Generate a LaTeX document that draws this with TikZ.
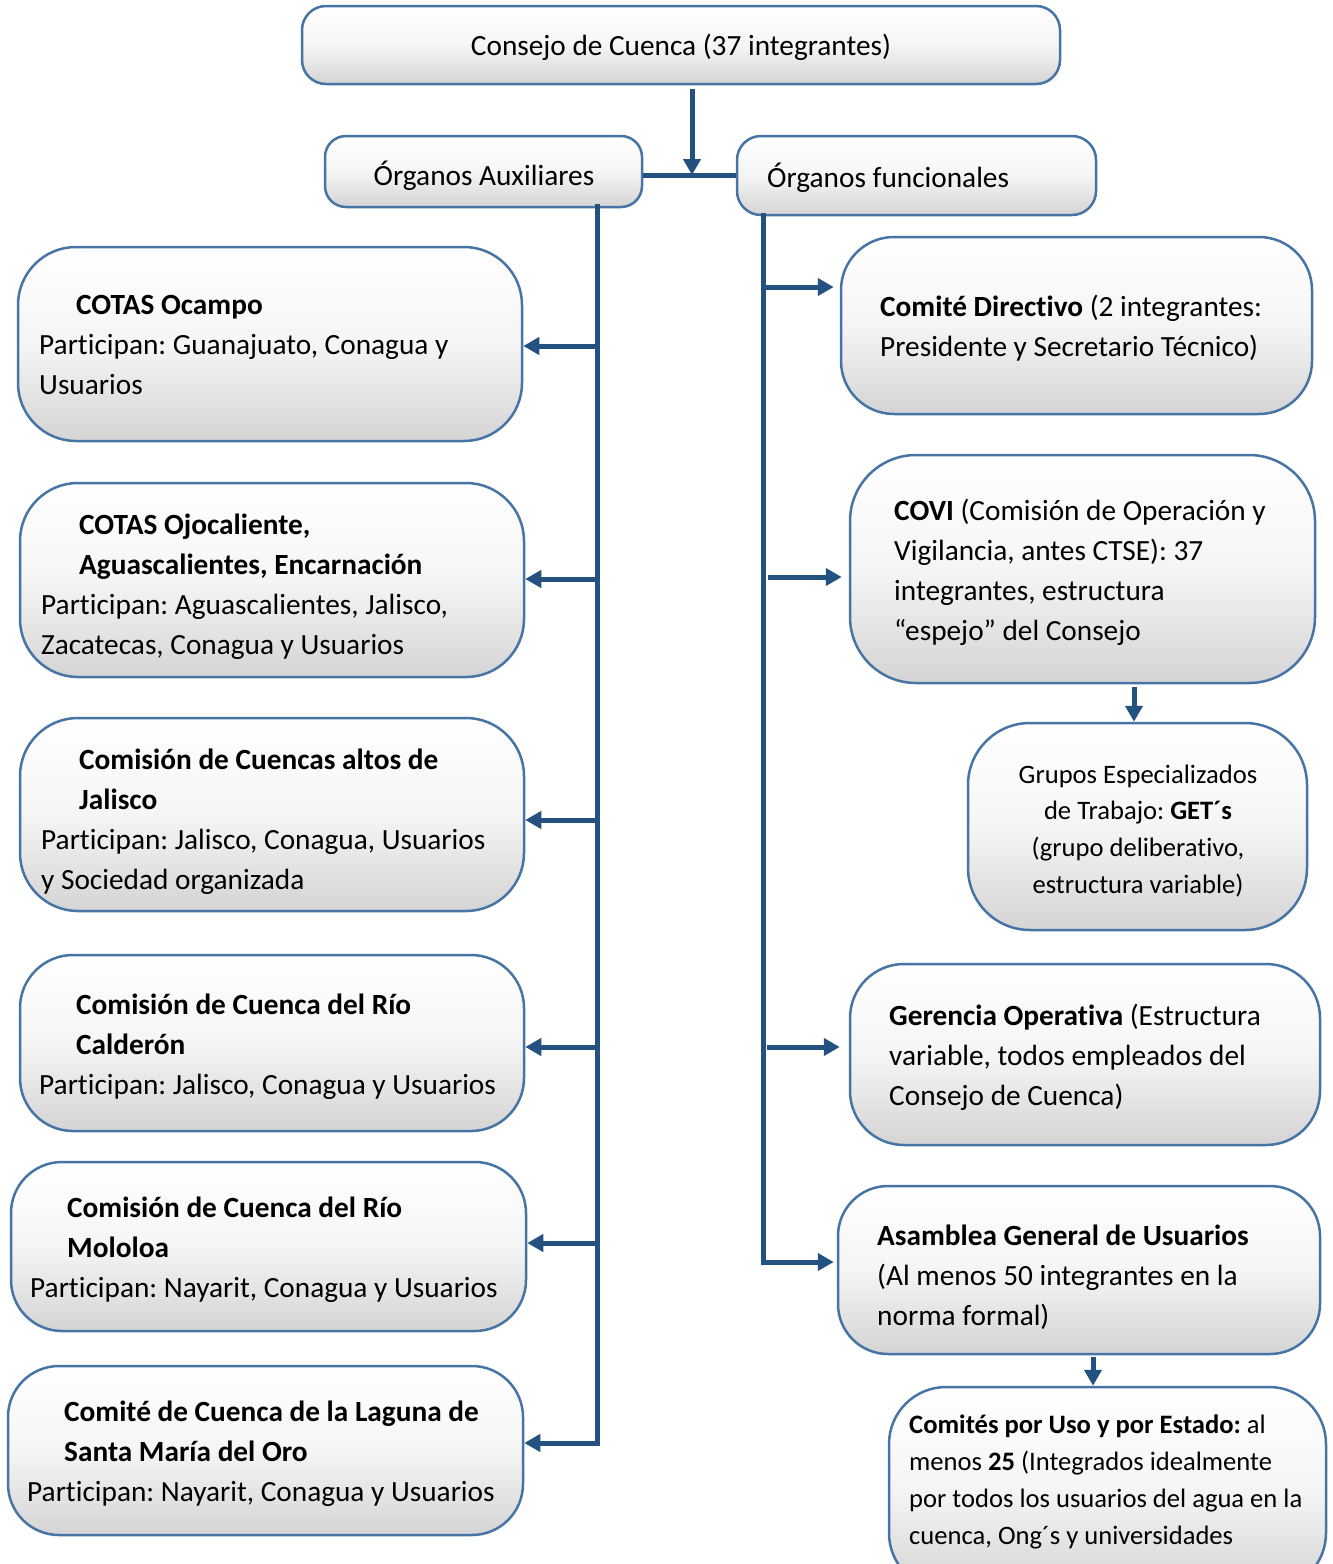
\documentclass[tikz,border=0pt]{standalone}
\usepackage{fontspec}
\setmainfont{Carlito}[Ligatures=NoCommon]
\usetikzlibrary{arrows.meta}
\frenchspacing
\definecolor{bordc}{RGB}{70,117,165}
\definecolor{connc}{RGB}{35,82,128}
\definecolor{boxbot}{RGB}{212,212,212}
\definecolor{boxmid}{RGB}{245,245,245}
\newcommand\mybox[6]{%
  \node[box, rounded corners=#6pt, minimum width={#4-#2}, minimum height={#5-#3}] (#1) at ({(#2+#4)/2},{(#3+#5)/2}) {};}
\begin{document}
\begin{tikzpicture}[x=1pt,y=-1pt,
  box/.style={draw=bordc, line width=2.5pt, top color=white, bottom color=boxbot, middle color=boxmid, inner sep=0pt},
  txt/.style={inner sep=0pt, align=left, font=\fontsize{29.3}{40}\selectfont},
  stxt/.style={inner sep=0pt, font=\fontsize{26.6}{36.8}\selectfont},
  conn/.style={draw=connc, line width=5pt},
  arr/.style={conn, -{Triangle[length=16pt,width=17pt]}}]
\useasboundingbox (0,0) rectangle (1333,1564);
\fill[white] (0,0) rectangle (1333,1564);
% boxes
\mybox{cons}{302}{6}{1060}{84}{24}
\mybox{aux}{325}{136}{642}{207}{21}
\mybox{func}{737}{136}{1096}{215}{24}
\mybox{b1}{18}{247}{522}{441}{58}
\mybox{b2}{20}{483}{524}{677}{58}
\mybox{b3}{20}{718}{524}{911}{58}
\mybox{b4}{20}{955}{524}{1131}{53}
\mybox{b5}{11}{1162}{526}{1331}{51}
\mybox{b6}{8}{1366}{523}{1535}{51}
\mybox{dir}{841}{237}{1312}{414}{53}
\mybox{covi}{850}{455}{1315}{683}{66}
\mybox{get}{968}{723}{1307}{930}{62}
\mybox{ger}{850}{964}{1320}{1145}{54}
\mybox{asa}{838}{1186}{1320}{1354}{50}
\mybox{com}{889}{1387}{1326}{1590}{57}
% texts
\node[txt] (tcons) at (681,47) {Consejo de Cuenca (37 integrantes)};
\node[txt] (taux) at (484,176) {Órganos Auxiliares};
\node[txt,anchor=west] (tfunc) at (767,178) {Órganos funcionales};
\node[txt,anchor=west] (tb1) at (39,346.5) {\strut\hspace*{37pt}\textbf{COTAS Ocampo}\\Participan: Guanajuato, Conagua y\\Usuarios\strut};
\node[txt,anchor=west] (tb2) at (41,586) {\strut\hspace*{38pt}\textbf{COTAS Ojocaliente,}\\\hspace*{38pt}\textbf{Aguascalientes, Encarnación}\\Participan: Aguascalientes, Jalisco,\\Zacatecas, Conagua y Usuarios\strut};
\node[txt,anchor=west] (tb3) at (41,821) {\strut\hspace*{38pt}\textbf{Comisión de Cuencas altos de}\\\hspace*{38pt}\textbf{Jalisco}\\Participan: Jalisco, Conagua, Usuarios\\y Sociedad organizada\strut};
\node[txt,anchor=west] (tb4) at (39,1046) {\strut\hspace*{37pt}\textbf{Comisión de Cuenca del Río}\\\hspace*{37pt}\textbf{Calderón}\\Participan: Jalisco, Conagua y Usuarios\strut};
\node[txt,anchor=west] (tb5) at (30,1249.5) {\strut\hspace*{37pt}\textbf{Comisión de Cuenca del Río}\\\hspace*{37pt}\textbf{Mololoa}\\Participan: Nayarit, Conagua y Usuarios\strut};
\node[txt,anchor=west] (tb6) at (27,1453) {\strut\hspace*{37pt}\textbf{Comité de Cuenca de la Laguna de}\\\hspace*{37pt}\textbf{Santa María del Oro}\\Participan: Nayarit, Conagua y Usuarios\strut};
\node[txt,anchor=west] (tdir) at (880,328) {\strut\textbf{Comité Directivo} (2 integrantes:\\Presidente y Secretario Técnico)\strut};
\node[txt,anchor=west] (tcovi) at (894,572) {\strut\textbf{COVI} (Comisión de Operación y\\Vigilancia, antes CTSE): 37\\integrantes, estructura\\“espejo” del Consejo\strut};
\node[stxt,align=center] (tget) at (1138,831) {\strut Grupos Especializados\\de Trabajo: \textbf{GET´s}\\(grupo deliberativo,\\estructura variable)\strut};
\node[txt,anchor=west] (tger) at (889,1057.5) {\strut\textbf{Gerencia Operativa} (Estructura\\variable, todos empleados del\\Consejo de Cuenca)\strut};
\node[txt,anchor=west] (tasa) at (877,1277) {\strut\textbf{Asamblea General de Usuarios}\\(Al menos 50 integrantes en la\\norma formal)\strut};
\node[stxt,align=left,anchor=west] (tcom) at (909,1481.5) {\strut\textbf{Comités por Uso y por Estado:} al\\menos \textbf{25} (Integrados idealmente\\por todos los usuarios del agua en la\\cuenca, Ong´s y universidades\strut};
% connectors top
\coordinate (J) at (692,175);
\draw[conn] (aux.east |- J) -- (func.west |- J);
\draw[arr, shorten <=4pt] (cons.south -| J) -- (J);
% left bus
\coordinate (LT) at (597,204);
\coordinate (LB) at (597,1443);
\coordinate (l1) at (597,346);
\coordinate (l2) at (597,579);
\coordinate (l3) at (597,820);
\coordinate (l4) at (597,1047);
\coordinate (l5) at (597,1243);
\draw[arr, line join=miter] (LT) -- (LB) -- (b6.east |- LB);
\draw[arr] (l1) -- (b1.east |- l1);
\draw[arr] (l2) -- (b2.east |- l2);
\draw[arr] (l3) -- (b3.east |- l3);
\draw[arr] (l4) -- (b4.east |- l4);
\draw[arr] (l5) -- (b5.east |- l5);
% right bus
\coordinate (RT) at (763,213);
\coordinate (RB) at (763,1262);
\coordinate (r1) at (763,287);
\coordinate (r2) at (763,577);
\coordinate (r3) at (763,1047);
\draw[arr, line join=miter, shorten >=3pt] (RT) -- (RB) -- (asa.west |- RB);
\draw[arr, shorten >=6pt] (r1) -- (dir.west |- r1);
\draw[arr, shorten <=5pt, shorten >=7pt] (r2) -- (covi.west |- r2);
\draw[arr, shorten <=4pt, shorten >=9pt] (r3) -- (ger.west |- r3);
% down arrows
\coordinate (G1) at (1134,0);
\coordinate (G2) at (1093,0);
\draw[arr, shorten <=3pt] (covi.south -| G1) -- (get.north -| G1);
\draw[arr, shorten <=2pt] (asa.south -| G2) -- (com.north -| G2);
\end{tikzpicture}
\end{document}
